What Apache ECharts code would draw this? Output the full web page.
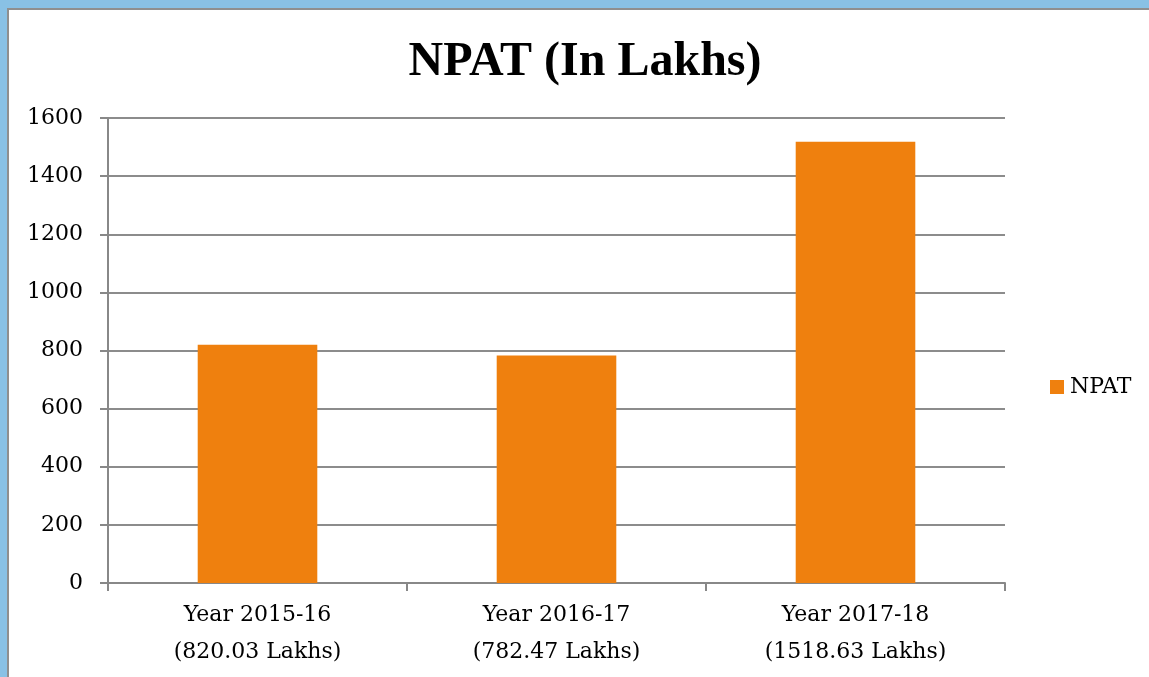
<!DOCTYPE html>
<html>
<head>
<meta charset="utf-8">
<script src="https://cdn.jsdelivr.net/npm/echarts@6/dist/echarts.min.js"></script>
<style>
html,body{margin:0;padding:0;width:1149px;height:677px;overflow:hidden;background:#89C1E5;}
#frame{position:absolute;left:7px;top:8px;width:1200px;height:700px;background:#fff;border-top:2px solid #8f8f8f;border-left:2px solid #8f8f8f;}
#chart{position:absolute;left:0;top:0;width:1149px;height:677px;}
</style>
</head>
<body>
<div id="frame"></div>
<div id="chart"></div>
<script>
const categories = ['Year 2015-16\n(820.03 Lakhs)', 'Year 2016-17\n(782.47 Lakhs)', 'Year 2017-18\n(1518.63 Lakhs)'];
const npatValues = [820.03, 782.47, 1518.63];
const seriesName = 'NPAT';
const chartTitle = 'NPAT (In Lakhs)';

const chart = echarts.init(document.getElementById('chart'), null, {renderer: 'canvas'});
const font = 'DejaVu Serif';
chart.setOption({
  backgroundColor: 'transparent',
  animation: false,
  title: {
    text: chartTitle,
    left: 580, top: 34, textAlign: 'center',
    textStyle: {fontFamily: 'Liberation Serif', fontWeight: 'bold', fontSize: 48, color: '#000'}
  },
  legend: {
    data: [seriesName],
    left: 1045, top: 371,
    orient: 'vertical',
    itemWidth: 14, itemHeight: 14, itemGap: 5,
    icon: 'rect',
    textStyle: {fontFamily: font, fontSize: 22, color: '#000', padding: [0,0,0,1]}
  },
  grid: {left: 108, right: 144, top: 118, bottom: 94, containLabel: false},
  xAxis: {
    type: 'category',
    data: categories,
    axisLine: {lineStyle: {color: '#888', width: 2}},
    axisTick: {show: true, length: 8, lineStyle: {color: '#888', width: 2}},
    axisLabel: {fontFamily: font, fontSize: 22, color: '#000', lineHeight: 37, margin: 14}
  },
  yAxis: {
    type: 'value',
    min: 0, max: 1600, interval: 200,
    axisLine: {show: true, lineStyle: {color: '#888', width: 2}},
    axisTick: {show: true, length: 8, lineStyle: {color: '#888', width: 2}},
    splitLine: {lineStyle: {color: '#8c8c8c', width: 2}},
    axisLabel: {fontFamily: font, fontSize: 22, color: '#000', margin: 25, formatter: v => String(v)}
  },
  series: [{
    name: seriesName,
    type: 'bar',
    data: npatValues,
    barWidth: '40%',
    itemStyle: {color: '#EF800E'}
  }]
});
</script>
</body>
</html>
